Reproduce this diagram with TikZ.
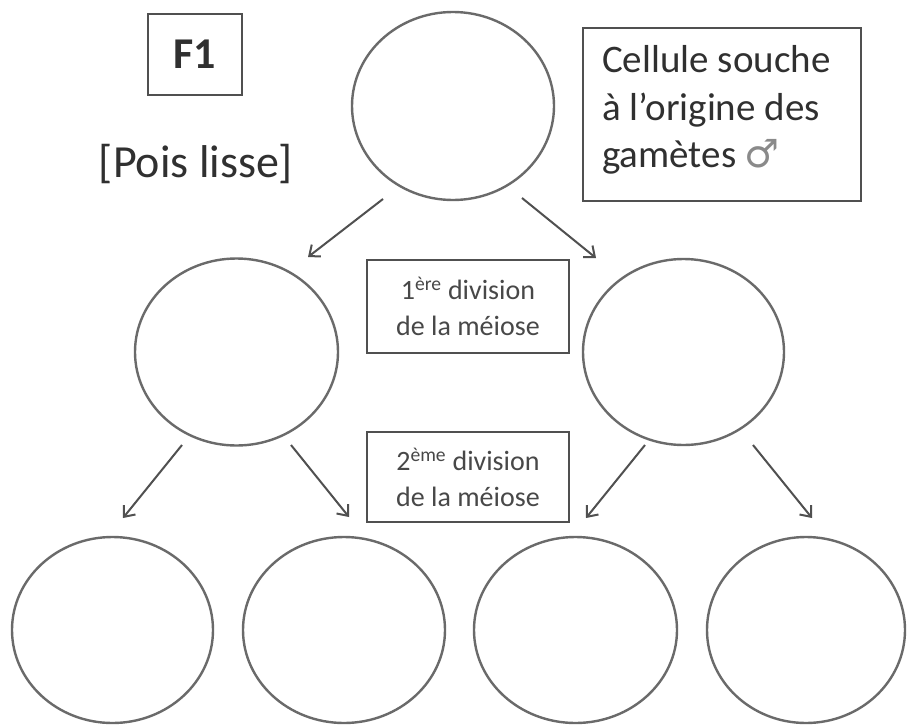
\documentclass[tikz,border=0pt]{standalone}
\usepackage{fontspec}
\setmainfont{Carlito}
\newfontfamily\symfont{DejaVu Sans}
\usetikzlibrary{shapes.geometric,arrows.meta,calc}
\definecolor{cellline}{HTML}{6A6A6A}
\definecolor{boxline}{HTML}{505050}
\definecolor{txt}{HTML}{303030}
\definecolor{divtxt}{HTML}{484848}
\definecolor{symcol}{HTML}{8A8A8A}
\begin{document}
\begin{tikzpicture}[x=1pt,y=-1pt,
  cell/.style={draw=cellline,line width=2.4pt,ellipse,minimum width=202pt,minimum height=188pt,inner sep=0pt},
  labelbox/.style={draw=boxline,line width=2.8pt,inner sep=0pt},
  arr/.style={draw=boxline,line width=2pt,-{Straight Barb[length=9pt,width=15pt]}}]
\useasboundingbox (0,0) rectangle (908,726);
\fill[white] (0,0) rectangle (908,726);

% cells
\node[cell] (top) at (453,106) {};
\node[cell,minimum width=203pt,minimum height=187pt] (ml) at (236.5,352) {};
\node[cell,minimum width=201pt,minimum height=186pt] (mr) at (683.5,352) {};
\node[cell,minimum width=201pt,minimum height=186pt] (b1) at (112.5,630) {};
\node[cell,minimum width=202pt,minimum height=186pt] (b2) at (344,630) {};
\node[cell,minimum width=203pt,minimum height=186pt] (b3) at (575.5,630) {};
\node[cell,minimum width=198pt,minimum height=186pt] (b4) at (806,630) {};

% labels
\node[labelbox,minimum width=94pt,minimum height=81pt,text=txt,font=\bfseries\fontsize{44}{50}\selectfont] (f1) at (195,54.5) {F1};
\node[anchor=base,inner sep=0pt,text=txt,font=\fontsize{46}{55}\selectfont] (pois) at (196,177) {[Pois lisse]};
\node[labelbox,minimum width=278pt,minimum height=173pt] (cellbox) at (722,114.5) {};
\node[anchor=west,inner sep=0pt,align=left,text=txt,font=\fontsize{39}{47.5}\selectfont] (celltxt) at (602,110)
  {Cellule souche\\à l’origine des\\gamètes {\symfont\color{symcol}♂}};
\node[labelbox,minimum width=202pt,minimum height=93pt,align=center,text=divtxt,font=\fontsize{28}{36}\selectfont] (div1) at (468,306.5)
  {1\textsuperscript{ère} division\\de la méiose};
\node[labelbox,minimum width=202pt,minimum height=90pt,align=center,text=divtxt,font=\fontsize{28}{36}\selectfont] (div2) at (468,477)
  {2\textsuperscript{ème} division\\de la méiose};

% arrow ends
\coordinate (a1s) at ($(top)+(-70,93)$);
\coordinate (a1e) at ($(ml)+(71.5,-95)$);
\coordinate (a2s) at ($(top)+(69,92)$);
\coordinate (a2e) at ($(mr)+(-87.5,-94)$);
\coordinate (a3s) at ($(ml)+(-54.5,93)$);
\coordinate (a3e) at ($(b1)+(10.5,-112)$);
\coordinate (a4s) at ($(ml)+(54.5,93)$);
\coordinate (a4e) at ($(b2)+(5,-113)$);
\coordinate (a5s) at ($(mr)+(-38.5,93)$);
\coordinate (a5e) at ($(b3)+(10.5,-112)$);
\coordinate (a6s) at ($(mr)+(69.5,93)$);
\coordinate (a6e) at ($(b4)+(6,-112)$);

\draw[arr] (a1s) -- (a1e);
\draw[arr] (a2s) -- (a2e);
\draw[arr] (a3s) -- (a3e);
\draw[arr] (a4s) -- (a4e);
\draw[arr] (a5s) -- (a5e);
\draw[arr] (a6s) -- (a6e);
\end{tikzpicture}
\end{document}
